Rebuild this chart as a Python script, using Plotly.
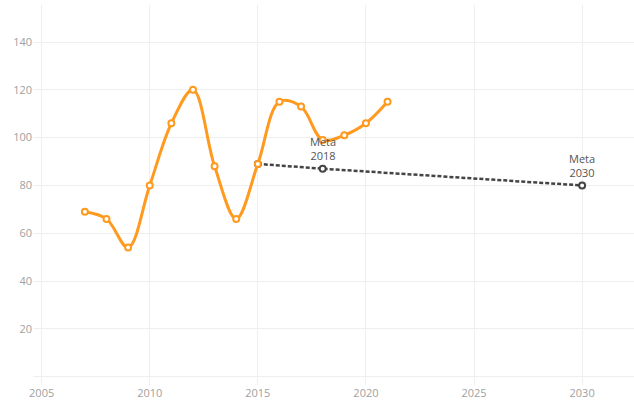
import plotly.graph_objects as go

years = [2007, 2008, 2009, 2010, 2011, 2012, 2013, 2014, 2015, 2016, 2017, 2018, 2019, 2020, 2021]
values = [69, 66, 54, 80, 106, 120, 88, 66, 89, 115, 113, 99, 101, 106, 115]

meta_years = [2015, 2018, 2030]
meta_values = [89, 87, 80]
meta_labels = ["", "Meta<br>2018", "Meta<br>2030"]

x_ticks = [2005, 2010, 2015, 2020, 2025, 2030]
y_ticks = [20, 40, 60, 80, 100, 120, 140]

orange = "#FF9A1F"
dark = "#444444"
grid = "#EEEEEE"

fig = go.Figure()
fig.add_trace(go.Scatter(
    x=meta_years, y=meta_values, mode="lines+markers",
    line=dict(color=dark, width=2.5, dash="4px,2px"),
    marker=dict(symbol="circle", size=6, color="white", line=dict(color=dark, width=2)),
    hoverinfo="skip", showlegend=False,
))
fig.add_trace(go.Scatter(
    x=years, y=values, mode="lines+markers",
    line=dict(color=orange, width=3, shape="spline", smoothing=1),
    marker=dict(symbol="circle", size=6, color="white", line=dict(color=orange, width=2)),
    showlegend=False,
))

for xv, yv, lab in zip(meta_years, meta_values, meta_labels):
    if lab:
        fig.add_annotation(x=xv, y=yv, text=lab, showarrow=False, yshift=20, align="center",
                           font=dict(size=11, color="#555555", family="Open Sans"))

fig.update_layout(
    width=634, height=408,
    margin=dict(l=33, r=0, t=5, b=23),
    paper_bgcolor="white", plot_bgcolor="white",
    font=dict(family="Open Sans", size=11, color="#A0A0A0"),
)
fig.update_xaxes(range=[2004.6, 2032.4], tickvals=x_ticks, showgrid=True, gridcolor=grid,
                 gridwidth=1, zeroline=False, showline=False, ticks="",
                 tickfont=dict(color="#A0A0A0", size=11))
fig.update_yaxes(range=[-3.5, 155.5], tickvals=y_ticks, showgrid=True, gridcolor=grid,
                 gridwidth=1, zeroline=True, zerolinecolor=grid, zerolinewidth=1,
                 showline=False, ticks="", tickfont=dict(color="#A0A0A0", size=11))

fig.write_html("out.html", config={"displayModeBar": False},
               post_script="document.body.style.margin='0';")
